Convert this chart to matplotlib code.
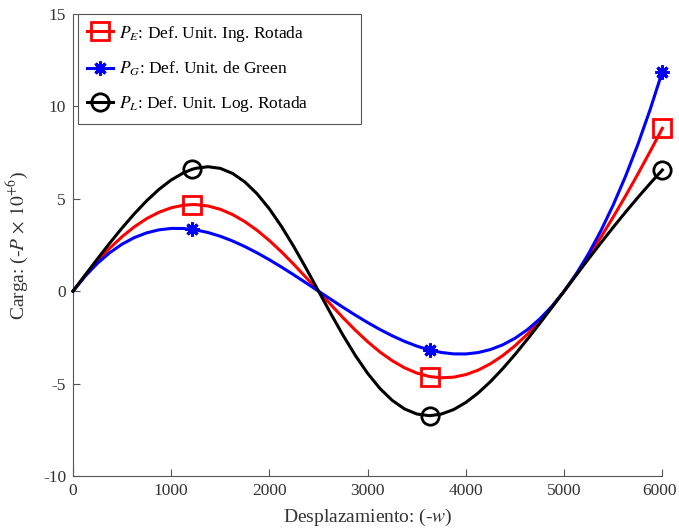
import numpy as np
import matplotlib
matplotlib.use('Agg')
import matplotlib.pyplot as plt
import matplotlib.transforms as mtransforms

# displacement (-w) and load (-P x 1e6)
w = [0, 125, 250, 375, 500, 625, 750, 875, 1000, 1125, 1212, 1250, 1375, 1500,
     1625, 1750, 1875, 2000, 2125, 2250, 2375, 2500, 2625, 2750, 2875, 3000,
     3125, 3250, 3375, 3500, 3625, 3636, 3750, 3875, 4000, 4125, 4250, 4375,
     4500, 4625, 4750, 4875, 5000, 5125, 5250, 5375, 5500, 5625, 5750, 5875,
     6000]

p_eng = [0, 0.850, 1.629, 2.332, 2.952, 3.486, 3.926, 4.271, 4.514, 4.653,
         4.687, 4.685, 4.611, 4.431, 4.145, 3.762, 3.290, 2.736, 2.115, 1.440,
         0.730, 0, -0.730, -1.440, -2.115, -2.736, -3.290, -3.762, -4.145,
         -4.431, -4.611, -4.622, -4.685, -4.653, -4.514, -4.271, -3.926,
         -3.486, -2.952, -2.332, -1.629, -0.850, 0, 0.917, 1.895, 2.930,
         4.018, 5.153, 6.334, 7.556, 8.816]
p_green = [0, 0.819, 1.512, 2.086, 2.547, 2.902, 3.157, 3.320, 3.396, 3.393,
           3.347, 3.316, 3.174, 2.972, 2.716, 2.414, 2.073, 1.698, 1.297,
           0.876, 0.441, 0, -0.441, -0.876, -1.297, -1.698, -2.073, -2.414,
           -2.716, -2.972, -3.174, -3.189, -3.316, -3.393, -3.396, -3.320,
           -3.157, -2.902, -2.547, -2.086, -1.512, -0.819, 0, 0.952, 2.043,
           3.280, 4.670, 6.218, 7.933, 9.820, 11.886]
p_log = [0, 0.883, 1.755, 2.608, 3.424, 4.192, 4.892, 5.508, 6.019, 6.406,
         6.593, 6.650, 6.735, 6.646, 6.371, 5.909, 5.265, 4.449, 3.482, 2.393,
         1.219, 0, -1.219, -2.393, -3.482, -4.449, -5.265, -5.909, -6.371,
         -6.646, -6.735, -6.735, -6.650, -6.406, -6.019, -5.508, -4.892,
         -4.192, -3.424, -2.608, -1.755, -0.883, 0, 0.883, 1.758, 2.619,
         3.460, 4.277, 5.068, 5.829, 6.559]

# points carrying a marker (w = 1212, 3636, 6000)
marks = [10, 31, 50]

labels = [r'$P_E$: Def. Unit. Ing. Rotada',
          r'$P_G$: Def. Unit. de Green',
          r'$P_L$: Def. Unit. Log. Rotada']

plt.rcParams['font.family'] = ['Liberation Serif', 'DejaVu Serif']
plt.rcParams['mathtext.fontset'] = 'stix'
plt.rcParams['axes.unicode_minus'] = False
plt.rcParams['font.size'] = 13

fig = plt.figure(figsize=(6.79, 5.28), dpi=100)
ax = fig.add_axes([0.1075, 0.0985, 0.868, 0.875])

axis_color = '#333333'
lw = 2.2

ax.plot(w, p_eng, color='#ff0000', lw=lw, marker='s', markersize=13,
        markerfacecolor='none', markeredgewidth=2, markevery=marks,
        label=labels[0], clip_on=False, zorder=3)
ax.plot(w, p_green, color='#0000ff', lw=lw, marker=(8, 2, 0), markersize=10,
        markeredgewidth=2.2, markevery=marks, label=labels[1],
        clip_on=False, zorder=3)
ax.plot(w, p_log, color='black', lw=lw, marker='o', markersize=12.5,
        markerfacecolor='none', markeredgewidth=2, markevery=marks,
        label=labels[2], clip_on=False, zorder=3)

ax.set_xlim(0, 6000)
ax.set_ylim(-10, 15)
ax.set_xticks([0, 1000, 2000, 3000, 4000, 5000, 6000])
ax.set_yticks([-10, -5, 0, 5, 10, 15])

for s in ['top', 'right']:
    ax.spines[s].set_visible(False)
for s in ['left', 'bottom']:
    ax.spines[s].set_color('#555555')
    ax.spines[s].set_linewidth(0.8)
ax.tick_params(direction='in', length=5, width=0.8, colors='#555555',
               labelcolor=axis_color, labelsize=12.5, pad=5)

# last x label sits a little to the left, as in the original
last = ax.get_xticklabels()[-1]
last.set_transform(last.get_transform() +
                   mtransforms.ScaledTranslation(-3 / 100, 0, fig.dpi_scale_trans))

ax.set_xlabel(r'Desplazamiento: (-$w$)', fontsize=14, color=axis_color, labelpad=6)
ax.set_ylabel(r'Carga: (-$P\,\times\,10^{+6}$)', fontsize=14, color=axis_color,
              labelpad=9)

leg = ax.legend(loc='upper left', bbox_to_anchor=(0.008, 0.0, 0.48, 1.0),
                mode='expand', fontsize=12.5, fancybox=False, framealpha=1,
                edgecolor='#555555', handlelength=1.5, handletextpad=0.3,
                labelspacing=0.93, borderpad=0.55, borderaxespad=0)
leg.get_frame().set_linewidth(0.8)

fig.savefig('out.png', dpi=100)
